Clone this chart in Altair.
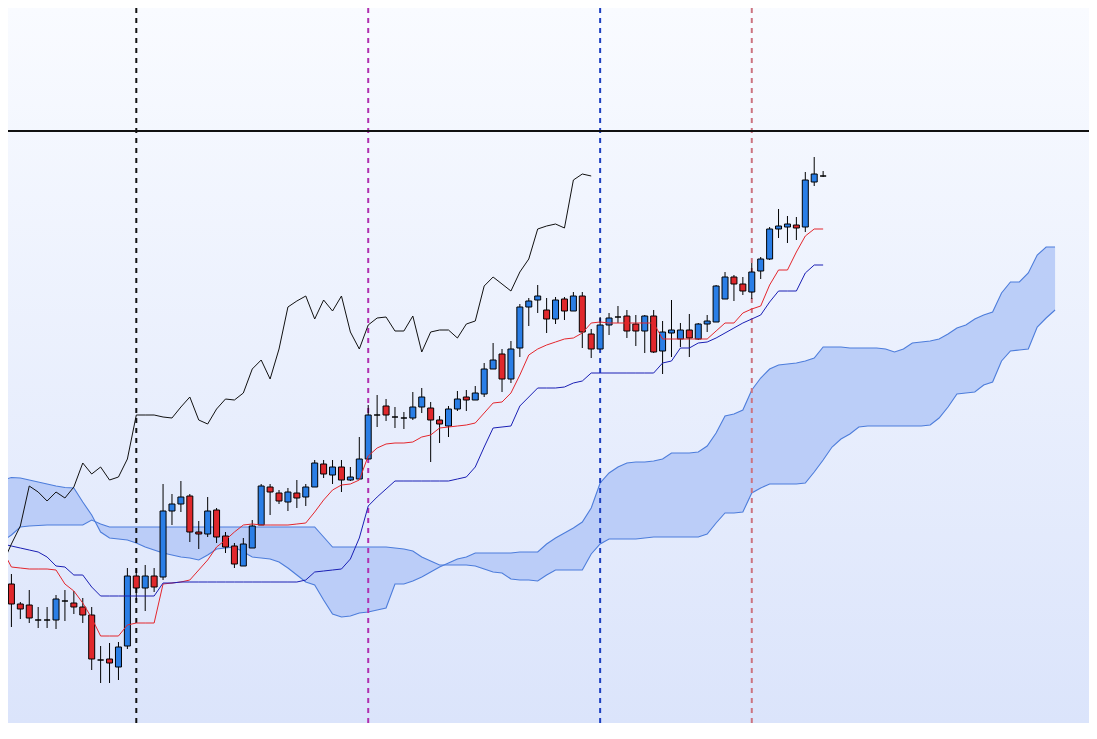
import altair as alt
import pandas as pd

# ---- data (price units, higher = up) ----
OPEN = [181,155,135,134,119,119,119,138,136,132,124,79,80,72,93,163,151,163,162,228,
        235,243,207,205,229,203,193,173,191,214,252,246,237,246,242,252,275,264,272,259,
        260,280,324,333,322,321,321,332,331,319,313,330,342,339,345,370,385,360,391,432,
        439,429,420,440,428,443,405,390,414,422,423,415,408,423,388,406,400,409,400,415,
        417,440,462,455,447,468,480,510,512,514,512,557,563]
HIGH = [185,165,137,149,132,132,144,149,148,141,132,93,96,97,171,171,174,171,255,245,
        258,245,218,242,231,207,196,201,219,255,255,249,251,259,255,279,279,279,279,272,
        302,334,344,340,332,327,347,351,337,323,333,348,349,353,376,396,390,398,435,441,
        454,441,442,442,447,447,410,422,426,433,429,424,424,429,418,439,416,425,416,424,
        454,467,464,462,476,482,512,530,523,522,567,582,568]
LOW = [149,112,120,116,111,111,110,118,125,116,69,56,56,59,90,139,128,147,159,214,
       227,197,190,202,196,186,171,173,191,214,224,235,228,231,233,252,261,255,247,258,
       260,280,312,318,311,310,319,326,277,296,302,328,328,339,342,370,347,356,382,413,
       426,406,415,419,428,391,381,390,404,416,401,393,386,386,365,382,392,382,399,407,
       417,440,438,444,440,460,479,501,496,499,507,553,562]
CLOSE = [155,135,130,121,119,119,140,138,132,124,80,79,76,92,163,151,163,152,228,235,
         242,207,205,228,202,192,175,195,213,253,247,238,247,241,252,276,265,272,259,262,
         280,324,324,324,322,321,332,342,319,315,330,340,339,346,370,379,360,390,432,438,
         443,420,439,428,443,407,390,414,421,422,408,408,423,387,407,409,409,401,415,418,
         453,462,455,448,467,480,510,513,515,511,559,565,563]
TENKAN = [189,172,171,170,170,170,169,155,148,136,121,103,103,103,114,116,116,116,155,156,
          157,159,169,179,192,199,207,214,215,214,214,214,214,215,216,227,239,249,254,255,
          259,283,291,295,296,296,297,302,304,311,312,313,314,316,326,336,337,346,364,384,
          390,394,397,400,401,406,416,417,416,416,416,416,416,416,400,400,400,400,400,400,
          408,416,416,426,430,433,454,469,469,487,503,510,510]
KIJUN = [195,193,191,189,187,182,173,172,164,164,152,143,143,143,143,143,143,143,156,156,
         157,157,157,157,157,157,157,157,157,157,157,157,157,157,159,167,168,169,170,180,
         201,233,242,250,258,258,258,258,258,258,258,260,262,272,292,311,312,313,333,342,
         351,351,351,352,356,358,366,366,366,366,366,366,366,366,376,378,391,391,396,397,
         401,406,411,416,420,424,437,448,448,448,466,474,474]
SPAN_A = [259,261.5,261,259,257,255,253,251.5,251,237,224,207,201,200,199,196,192,189,186,184,
          182,181,179,184,190,191,192,187,182,181,180,177,171,164,157,154,139,125,122,123,
          126,127,129,131,155,155,158,162,167,172,176,180,182,186,186,186,186,186,187,187,
          187,195,201,206,211,217,231,256,266,272,276,277,277,278,280,286,286,286,287,293,
          306,323,325,329,349,361,370,374,375,376,378,381,392,392,392,391,391,391,391,390,
          387,390,396,397,398,400,405,411,414,420,424,427,446,457,457,466,484,492,492]
SPAN_B = [198,204,212,213,213.5,214,214,214,214,214,219,215,212,212,212,212,212,212,212,212,
          212,212,212,212,212,212,212,212,212,212,212,212,212,212,212,212,202,192,192,192,
          192,192,192,192,191,190,188,182,178,174,174,174,174,173,170,167,166,160,159,159,
          158,164,169,169,169,169,185,195,200,200,200,200,201,202,202,202,202,202,202,205,
          216,226,226,227,246,251,255,255,255,255,256,267,279,292,300,305,312,313,313,313,
          313,313,313,313,314,321,332,345,346,347,354,357,378,388,389,390,412,421,429]
SHIFT = 26                       # chikou span = close drawn 26 periods back
MARKER_IDX = [15, 41, 67, 84]
MARKER_COLORS = ["#111111", "#b02fb0", "#1d40c0", "#cc7480"]
LEVEL = 608

# ---- layout ----
W, H = 1081, 715
X_DOMAIN = [0.617, 121.805]
Y_DOMAIN = [16, 731]
UP, DOWN = "#2a7ee6", "#e0282c"

n = len(CLOSE)
candles = pd.DataFrame({"i": list(range(n)), "open": OPEN, "high": HIGH,
                        "low": LOW, "close": CLOSE})
candles["dir"] = ["up" if c >= o else "down" for o, c in zip(OPEN, CLOSE)]
ichi = pd.DataFrame({"i": list(range(n)), "tenkan": TENKAN, "kijun": KIJUN})
chikou = pd.DataFrame({"i": list(range(n - SHIFT)), "v": CLOSE[SHIFT:]})
cloud = pd.DataFrame({"i": list(range(len(SPAN_A))), "a": SPAN_A, "b": SPAN_B})
markers = pd.DataFrame({"i": MARKER_IDX, "c": MARKER_COLORS})

xs = alt.Scale(domain=X_DOMAIN, nice=False, zero=False, padding=0)
ys = alt.Scale(domain=Y_DOMAIN, nice=False, zero=False, padding=0)
X = alt.X("i:Q", scale=xs, axis=None)

grad = alt.Gradient(gradient="linear",
                    stops=[alt.GradientStop(offset=0, color="#f9fbff"),
                           alt.GradientStop(offset=1, color="#dbe4fb")],
                    x1=0, x2=0, y1=0, y2=1)

bg = alt.Chart(pd.DataFrame({"k": [0]})).mark_rect(fill=grad).encode(
    x=alt.value(0), x2=alt.value(W), y=alt.value(0), y2=alt.value(H))

cloud_area = alt.Chart(cloud).mark_area(color="#b8cbf8", opacity=0.95, clip=True).encode(
    x=X, y=alt.Y("a:Q", scale=ys, axis=None), y2="b:Q")
span_a = alt.Chart(cloud).mark_line(color="#4d7ddb", strokeWidth=1.1, clip=True).encode(
    x=X, y=alt.Y("a:Q", scale=ys, axis=None))
span_b = alt.Chart(cloud).mark_line(color="#4d7ddb", strokeWidth=1.1, clip=True).encode(
    x=X, y=alt.Y("b:Q", scale=ys, axis=None))

vlines = alt.Chart(markers).mark_rule(strokeDash=[5, 5], strokeWidth=2, clip=True).encode(
    x=X, y=alt.value(0), y2=alt.value(H), color=alt.Color("c:N", scale=None))
hline = alt.Chart(pd.DataFrame({"p": [LEVEL]})).mark_rule(color="#111111", strokeWidth=2).encode(
    y=alt.Y("p:Q", scale=ys, axis=None), x=alt.value(0), x2=alt.value(W))

wicks = alt.Chart(candles).mark_rule(color="#000000", strokeWidth=1, clip=True).encode(
    x=X, y=alt.Y("low:Q", scale=ys, axis=None), y2="high:Q")
bodies = alt.Chart(candles).mark_bar(size=6, stroke="#000000", strokeWidth=1,
                                     orient="vertical", clip=True).encode(
    x=X, y=alt.Y("open:Q", scale=ys, axis=None), y2="close:Q",
    color=alt.Color("dir:N", scale=alt.Scale(domain=["up", "down"], range=[UP, DOWN]),
                    legend=None))

tenkan = alt.Chart(ichi).mark_line(color="#e4262c", strokeWidth=1, clip=True).encode(
    x=X, y=alt.Y("tenkan:Q", scale=ys, axis=None))
kijun = alt.Chart(ichi).mark_line(color="#1a1fb4", strokeWidth=1, clip=True).encode(
    x=X, y=alt.Y("kijun:Q", scale=ys, axis=None))
chikou_line = alt.Chart(chikou).mark_line(color="#111111", strokeWidth=1, clip=True).encode(
    x=X, y=alt.Y("v:Q", scale=ys, axis=None))

chart = alt.layer(bg, cloud_area, span_a, span_b, vlines, hline, wicks, bodies,
                  tenkan, kijun, chikou_line).properties(
    width=W, height=H, padding=0,
    autosize=alt.AutoSizeParams(type="none")
).configure_view(strokeWidth=0)

chart.save("out.html", embed_options={"renderer": "svg", "actions": False})
